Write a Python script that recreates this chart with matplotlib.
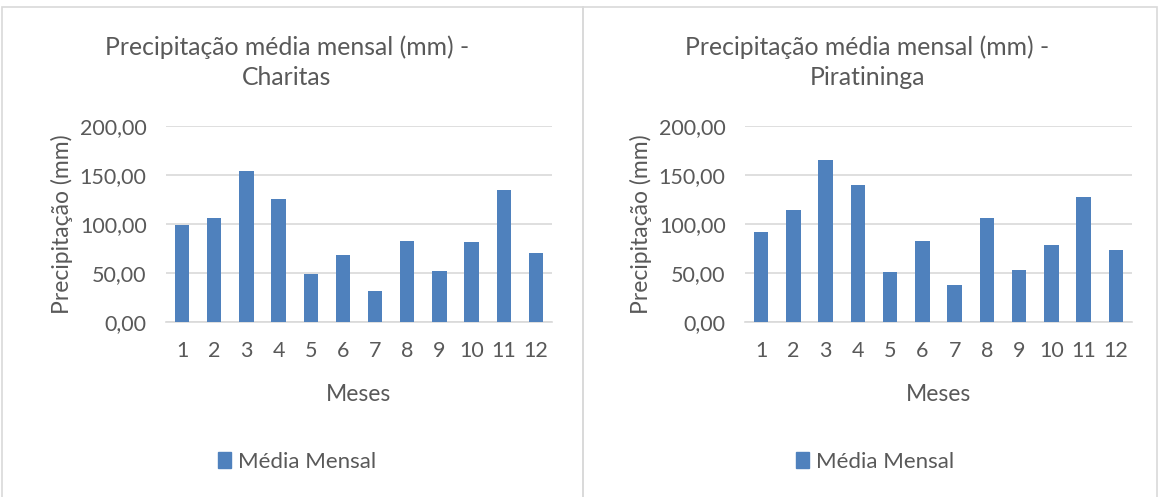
import numpy as np
import matplotlib
matplotlib.use('Agg')
import matplotlib.pyplot as plt
from matplotlib.patches import Rectangle, Patch

# Data
meses = [1, 2, 3, 4, 5, 6, 7, 8, 9, 10, 11, 12]
charitas = [99.3, 105.8, 153.7, 125.9, 48.6, 68.0, 32.0, 82.3, 51.7, 82.0, 135.0, 70.7]
piratininga = [91.5, 114.3, 165.0, 139.8, 50.7, 82.3, 37.8, 105.8, 52.7, 78.2, 127.6, 73.1]
titulos = ['Precipitação média mensal (mm) -\nCharitas',
           'Precipitação média mensal (mm) -\nPiratininga']
yticks = [0, 50, 100, 150, 200]
ytick_labels = ['0,00', '50,00', '100,00', '150,00', '200,00']

plt.rcParams['font.family'] = ['Lato', 'DejaVu Sans']
grey = '#595959'
blue = '#4F81BD'
gridc = '#D9D9D9'

W, H = 1159, 497
fig = plt.figure(figsize=(W / 100, H / 100), dpi=100)
fig.patch.set_facecolor('white')

# panel borders (pixel coords -> figure fraction)
def px(x, y):
    return x / W, 1 - y / H

for x0, x1 in [(2, 583), (583, 1157)]:
    (fx0, fy0), (fx1, fy1) = px(x0, 7), px(x1, 499)
    fig.add_artist(Rectangle((fx0, fy1), fx1 - fx0, fy0 - fy1, fill=False,
                             ec=gridc, lw=1.2, transform=fig.transFigure))

panels = [(166, 552, charitas, titulos[0], 290, 297),
          (745, 1132, piratininga, titulos[1], 870, 875)]

for xl, xr, vals, tit, xc, xleg in panels:
    l, b = px(xl, 322)
    r, t = px(xr, 126)
    ax = fig.add_axes([l, b, r - l, t - b])
    ax.bar(meses, vals, width=0.45, color=blue, zorder=3)
    ax.set_xlim(0.5, 12.5)
    ax.set_ylim(0, 200)
    ax.set_yticks(yticks)
    ax.set_yticklabels(ytick_labels)
    ax.set_xticks(meses)
    ax.grid(axis='y', color=gridc, lw=1.2, zorder=0)
    for s in ['top', 'right', 'left']:
        ax.spines[s].set_visible(False)
    ax.spines['bottom'].set_color(gridc)
    ax.spines['bottom'].set_linewidth(1.2)
    ax.tick_params(length=0, labelsize=15.5, colors=grey)
    ax.tick_params(axis='x', pad=14)
    ax.tick_params(axis='y', pad=14)
    ax.set_xlabel('Meses', fontsize=16.5, color=grey, labelpad=16)
    ax.set_ylabel('Precipitação (mm)', fontsize=16.5, color=grey, labelpad=5)
    fx, fy = px(xc - 3, 62)
    fig.text(fx, fy, tit, ha='center', va='center', fontsize=17.8,
             color=grey, linespacing=1.35)
    lx, ly = px(xleg, 462)
    fig.legend(handles=[Patch(color=blue, label='Média Mensal')],
               loc='center', bbox_to_anchor=(lx, ly), frameon=False,
               fontsize=16, labelcolor=grey, handlelength=0.6,
               handleheight=0.7, handletextpad=0.3)

fig.savefig('out.png', dpi=100)
